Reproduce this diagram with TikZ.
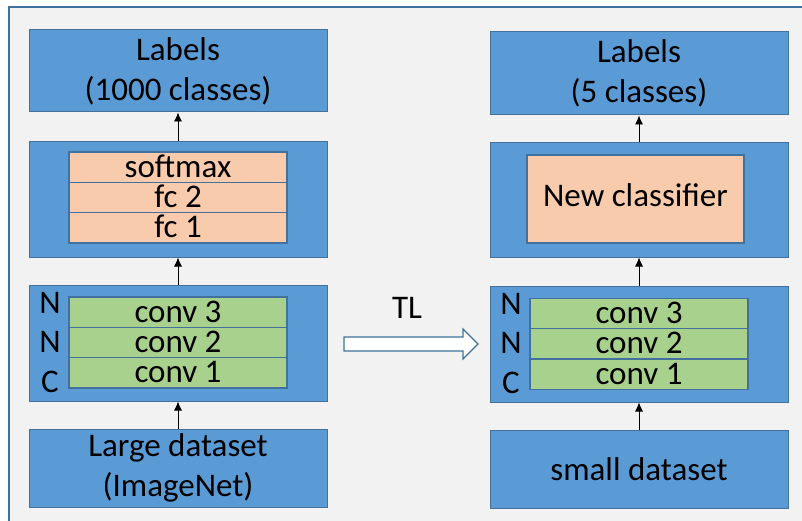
\documentclass[tikz,border=0pt]{standalone}
\usepackage{fontspec}
\setmainfont{Carlito}
\usetikzlibrary{arrows.meta}
\definecolor{boxblue}{HTML}{5B9BD5}
\definecolor{boxline}{HTML}{41719C}
\definecolor{fcorange}{HTML}{F8CBAD}
\definecolor{convgreen}{HTML}{A9D18E}
\definecolor{bggray}{HTML}{F2F2F2}

\begin{document}
\begin{tikzpicture}[x=1pt,y=-1pt,>={Latex[length=9pt,width=8pt]},
font=\fontsize{33}{40}\selectfont,
outer box/.style={rectangle,draw=boxline,fill=boxblue,line width=1pt,minimum width=298pt,inner sep=0pt,align=center},
layer box/.style={rectangle,draw=boxline,line width=1.3pt,minimum width=218pt,minimum height=30.3pt,inner sep=0pt,text height=24pt,text depth=4pt},
fc layer/.style={layer box,fill=fcorange},
conv layer/.style={layer box,fill=convgreen}]
\useasboundingbox (0,0) rectangle (802,521);
\fill[white] (0,0) rectangle (802,521);
\draw[boxline,fill=bggray,line width=1.5pt] (9,7) rectangle (806,526);
% pretrained network
\node[outer box,minimum height=82pt] (1) at (178,71) {Labels\\(1000 classes)};
\node[outer box,minimum height=115pt] (2) at (178,199.5) {};
\node[fc layer] (3) at (178,167.2) {softmax};
\node[fc layer] (4) at (178,197.5) {fc 2};
\node[fc layer] (5) at (178,227.8) {fc 1};
\node[outer box,minimum height=116pt] (6) at (178,343) {};
\node[conv layer] (7) at (178,312.2) {conv 3};
\node[conv layer] (8) at (178,342.5) {conv 2};
\node[conv layer] (9) at (178,372.8) {conv 1};
\node[inner sep=0pt] (10) at (50,303) {N};
\node[inner sep=0pt] (11) at (50,342) {N};
\node[inner sep=0pt] (12) at (50,382) {C};
\node[outer box,minimum height=78pt] (13) at (178,468) {Large dataset\\(ImageNet)};
% new network
\node[outer box,minimum height=83pt] (14) at (639,73.5) {Labels\\(5 classes)};
\node[outer box,minimum height=114pt] (15) at (639,200) {};
\node[fc layer,minimum width=217pt,minimum height=88pt,text height=22pt,text depth=6pt] (16) at (635.5,199) {New classifier};
\node[outer box,minimum height=116pt] (17) at (639,344) {};
\node[conv layer] (18) at (639,313.5) {conv 3};
\node[conv layer] (19) at (639,343.8) {conv 2};
\node[conv layer] (20) at (639,374) {conv 1};
\node[inner sep=0pt] (21) at (511,304) {N};
\node[inner sep=0pt] (22) at (511,343) {N};
\node[inner sep=0pt] (23) at (511,383) {C};
\node[outer box,minimum height=78pt] (24) at (639,469) {small dataset};
\draw[->,line width=0.8pt] (2.north) -- (1.south);
\draw[->,line width=0.8pt] (6.north) -- (2.south);
\draw[->,line width=0.8pt] (13.north) -- (6.south);
\draw[->,line width=0.8pt] (15.north) -- (14.south);
\draw[->,line width=0.8pt] (17.north) -- (15.south);
\draw[->,line width=0.8pt] (24.north) -- (17.south);
% transfer arrow
\node (25) at (407,308) {TL};
\draw[boxline,fill=white,line width=1.2pt] (344,337) -- (463,337) -- (463,329) -- (478,344)
  -- (463,359) -- (463,351) -- (344,351) -- cycle;
\end{tikzpicture}
\end{document}
